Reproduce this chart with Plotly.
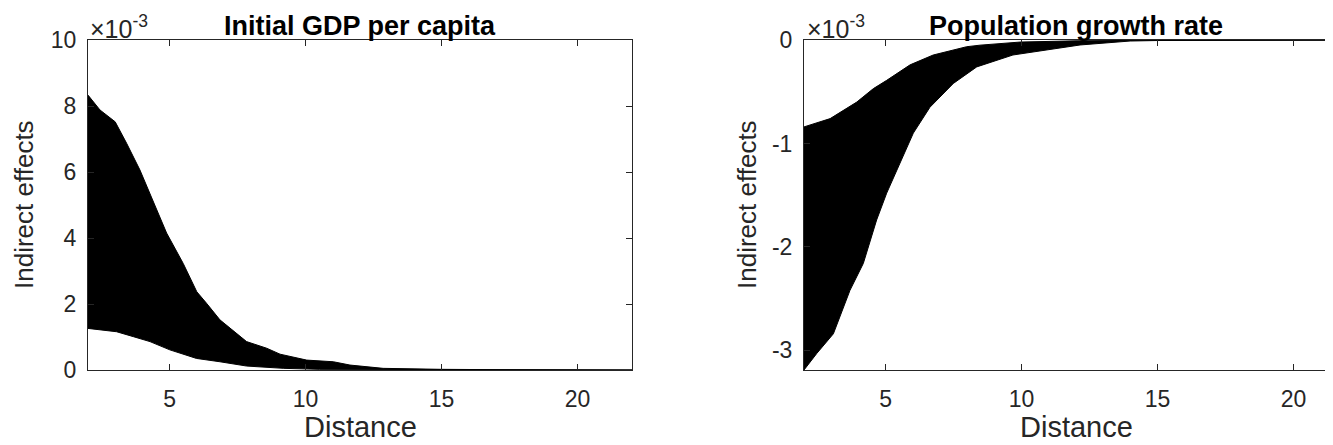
import plotly.graph_objects as go

# ---- data (values in units of 1e-3) ----
gdp_upper_x = [2, 2.44, 3.0, 3.42, 3.91, 4.53, 4.89, 5.5, 6.0, 6.36, 6.85, 7.83, 8.57, 9.06, 10.04, 11.02, 11.63, 12.85, 14, 15, 17, 20, 22]
gdp_upper_y = [8.33, 7.88, 7.52, 6.87, 6.06, 4.85, 4.15, 3.23, 2.37, 2.02, 1.52, 0.86, 0.66, 0.48, 0.30, 0.25, 0.15, 0.05, 0.03, 0.02, 0.01, 0.005, 0.003]
gdp_lower_x = [2, 3.05, 3.67, 4.28, 5.01, 5.99, 6.85, 7.83, 9.2, 10.5, 12, 15, 20, 22]
gdp_lower_y = [1.26, 1.16, 1.01, 0.86, 0.61, 0.35, 0.25, 0.12, 0.05, 0.02, 0.01, 0.004, 0.001, 0.001]

pop_upper_x = [2, 2.96, 3.94, 4.55, 5.04, 5.9, 6.75, 7.98, 8.47, 9.94, 12, 15, 20, 22]
pop_upper_y = [-0.84, -0.76, -0.60, -0.47, -0.39, -0.24, -0.145, -0.065, -0.05, -0.02, -0.008, -0.002, -0.001, -0.001]
pop_lower_x = [2, 2.47, 3.08, 3.69, 4.18, 4.67, 5.04, 5.53, 6.02, 6.63, 7.49, 8.35, 9.68, 12.15, 13.99, 15, 18, 22]
pop_lower_y = [-3.19, -3.03, -2.84, -2.42, -2.16, -1.74, -1.48, -1.19, -0.90, -0.65, -0.42, -0.26, -0.145, -0.048, -0.01, -0.005, -0.002, -0.001]

titles = ["Initial GDP per capita", "Population growth rate"]
x_ticks = [5, 10, 15, 20]
gdp_yticks = [0, 2, 4, 6, 8, 10]
pop_yticks = [-3, -2, -1, 0]
pop_yticklabels = ["-3", "-2", "-1", "0"]

W, H = 1333, 445
OFF = 8  # page offset of the figure inside the browser
AX = "#262626"
FONT = "Liberation Sans, Arial, Helvetica, sans-serif"

fig = go.Figure()

def band(xu, yu, xl, yl, xa, ya):
    fig.add_trace(go.Scatter(
        x=list(xu) + list(reversed(xl)),
        y=list(yu) + list(reversed(yl)),
        fill="toself", fillcolor="black", mode="lines",
        line=dict(color="black", width=1), xaxis=xa, yaxis=ya,
        showlegend=False, hoverinfo="skip"))

band(gdp_upper_x, gdp_upper_y, gdp_lower_x, gdp_lower_y, "x", "y")
band(pop_upper_x, pop_upper_y, pop_lower_x, pop_lower_y, "x2", "y2")

def px(xp):  # screen pixel -> paper x
    return (xp - OFF) / W

def py(yp):  # screen pixel -> paper y
    return (H - (yp - OFF)) / H

ydom = [py(370), py(40)]
common = dict(showgrid=False, zeroline=False, showline=True, linecolor=AX, linewidth=1,
              ticks="inside", ticklen=6, tickcolor=AX, tickwidth=1, automargin=False,
              tickfont=dict(family=FONT, size=23, color=AX))

right_end = 2 + (W + OFF - 804) / 27.2

fig.update_layout(
    width=W, height=H, margin=dict(l=0, r=0, t=0, b=0, autoexpand=False),
    paper_bgcolor="white", plot_bgcolor="white", showlegend=False,
    xaxis=dict(domain=[px(88), px(632)], range=[2, 22], tickvals=x_ticks, mirror="ticks",
               anchor="y", ticklabelstandoff=8, **common),
    yaxis=dict(domain=ydom, range=[0, 10], tickvals=gdp_yticks, mirror="ticks",
               anchor="x", ticklabelstandoff=6, **common),
    xaxis2=dict(domain=[px(804), 1.0], range=[2, right_end], tickvals=x_ticks,
                mirror="ticks", anchor="y2", ticklabelstandoff=8, **common),
    yaxis2=dict(domain=ydom, range=[-3.19, 0], tickvals=pop_yticks, ticktext=pop_yticklabels,
                mirror=False, anchor="x2", ticklabelstandoff=6, **common),
)

ann = []
for cx, t in [(360, titles[0]), (1076, titles[1])]:
    ann.append(dict(x=px(cx), y=py(9), xref="paper", yref="paper", text="<b>%s</b>" % t,
                    showarrow=False, xanchor="center", yanchor="top",
                    font=dict(family=FONT, size=27, color="black")))
for cx in [360, 1076]:
    ann.append(dict(x=px(cx), y=py(427), xref="paper", yref="paper", text="Distance",
                    showarrow=False, xanchor="center", yanchor="middle",
                    font=dict(family=FONT, size=29, color=AX)))
for cx in [24, 747]:
    ann.append(dict(x=px(cx), y=py(205), xref="paper", yref="paper", text="Indirect effects",
                    showarrow=False, xanchor="center", yanchor="middle", textangle=-90,
                    font=dict(family=FONT, size=26, color=AX)))
for lx in [88, 805]:
    ann.append(dict(x=px(lx), y=py(9), xref="paper", yref="paper",
                    text="×10<sup>-3</sup>", showarrow=False, xanchor="left", yanchor="top",
                    font=dict(family=FONT, size=25, color=AX)))
fig.update_layout(annotations=ann)

fig.write_html("out.html")
